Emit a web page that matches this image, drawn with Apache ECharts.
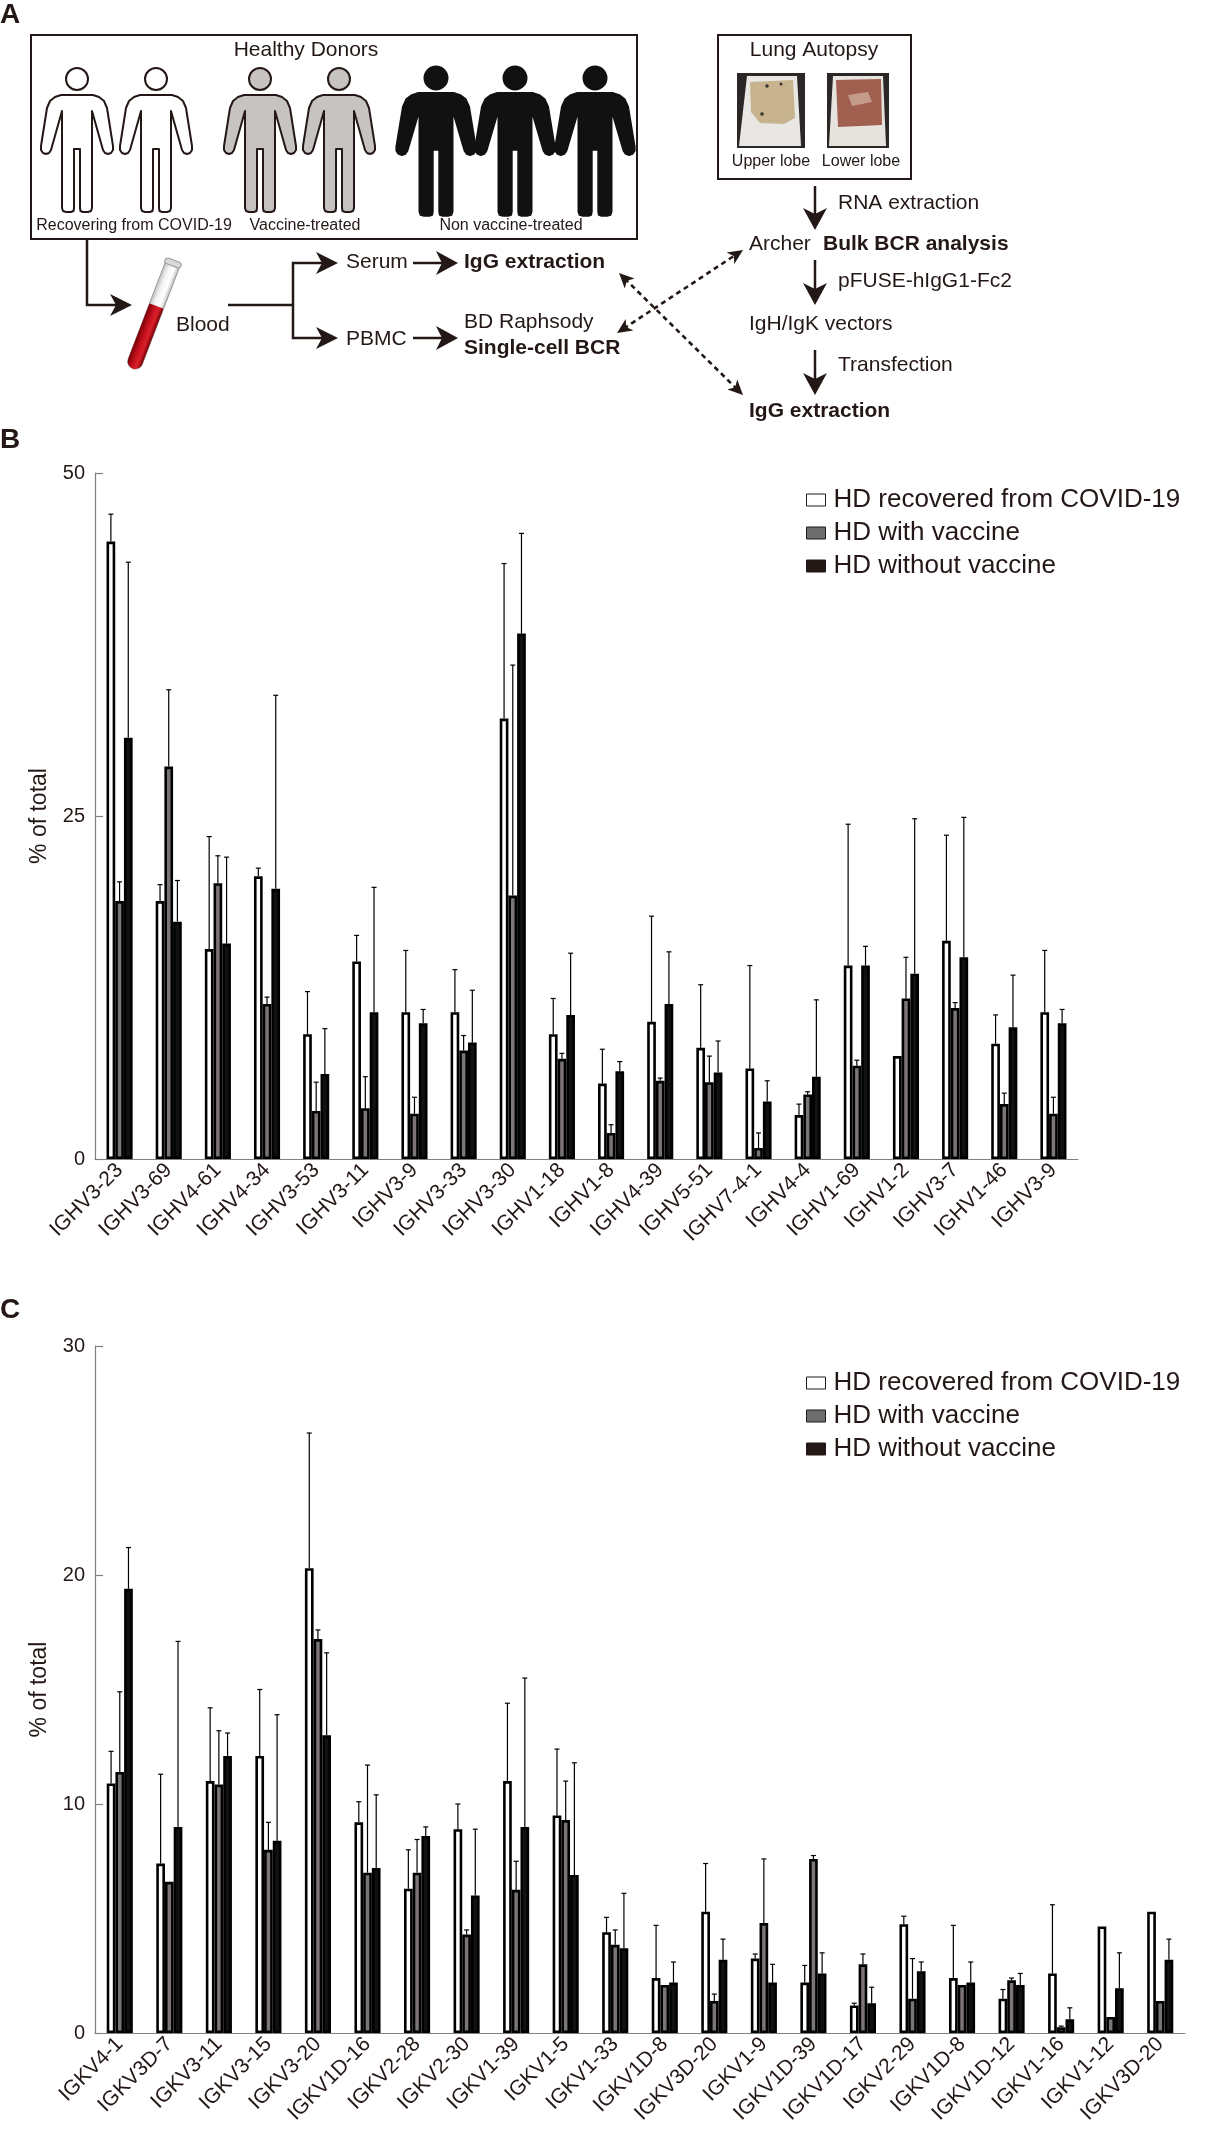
<!DOCTYPE html>
<html>
<head>
<meta charset="utf-8">
<script src="https://cdn.jsdelivr.net/npm/echarts@6/dist/echarts.min.js"></script>
<style>html,body{margin:0;padding:0;background:#fff;}#c{width:1206px;height:2153px;}</style>
</head>
<body>
<div id="c"></div>
<script>
// ---------- DATA ----------
const seriesNames = ['HD recovered from COVID-19', 'HD with vaccine', 'HD without vaccine'];

const catsB = ['IGHV3-23','IGHV3-69','IGHV4-61','IGHV4-34','IGHV3-53','IGHV3-11','IGHV3-9','IGHV3-33','IGHV3-30','IGHV1-18','IGHV1-8','IGHV4-39','IGHV5-51','IGHV7-4-1','IGHV4-4','IGHV1-69','IGHV1-2','IGHV3-7','IGHV1-46','IGHV3-9'];
const covidB    = [45.0,18.8,15.3,20.6,9.1,14.4,10.7,10.7,32.1,9.1,5.5,10.0,8.1,6.6,3.2,14.1,7.5,15.9,8.4,10.7];
const covidErrB = [2.0,1.2,8.2,0.6,3.1,1.9,4.5,3.1,11.3,2.6,2.5,7.7,4.6,7.5,0.8,10.3,0,7.7,2.1,4.5];
const vacB      = [18.8,28.6,20.1,11.3,3.5,3.7,3.3,7.9,19.2,7.3,1.9,5.7,5.6,0.8,4.7,6.8,11.7,11.0,4.0,3.3];
const vacErrB   = [1.4,5.6,2.0,0.5,2.1,2.3,1.2,1.1,16.8,0.4,0.6,0.2,1.9,1.1,0.2,0.4,3.0,0.4,0.8,1.2];
const novacB    = [30.7,17.3,15.7,19.7,6.2,10.7,9.9,8.5,38.3,10.5,6.4,11.3,6.3,4.2,6.0,14.1,13.5,14.7,9.6,9.9];
const novacErrB = [12.8,3.0,6.3,14.1,3.3,9.1,1.0,3.8,7.3,4.5,0.7,3.8,2.3,1.5,5.6,1.4,11.3,10.2,3.8,1.0];
const yTicksB = {min:0, max:50, interval:25};

const catsC = ['IGKV4-1','IGKV3D-7','IGKV3-11','IGKV3-15','IGKV3-20','IGKV1D-16','IGKV2-28','IGKV2-30','IGKV1-39','IGKV1-5','IGKV1-33','IGKV1D-8','IGKV3D-20','IGKV1-9','IGKV1D-39','IGKV1D-17','IGKV2-29','IGKV1D-8','IGKV1D-12','IGKV1-16','IGKV1-12','IGKV3D-20'];
const covidC    = [10.9,7.4,11.0,12.1,20.3,9.2,6.3,8.9,11.0,9.5,4.4,2.4,5.3,3.25,2.2,1.2,4.75,2.4,1.5,2.6,4.65,5.3];
const covidErrC = [1.4,3.9,3.2,2.9,5.9,0.9,1.7,1.1,3.4,2.9,0.65,2.3,2.1,0.2,0.75,0.1,0.35,2.3,0.4,3.0,0,0];
const vacC      = [11.4,6.6,10.85,8.0,17.2,7.0,7.0,4.3,6.25,9.3,3.85,2.1,1.4,4.8,7.6,3.0,1.5,2.1,2.3,0.25,0.7,1.4];
const vacErrC   = [3.5,0,2.35,1.2,0.4,4.7,1.45,0.2,1.25,1.7,0.65,0,0.3,2.8,0.15,0.45,1.75,0,0.1,0.05,0,0];
const novacC    = [19.4,9.0,12.1,8.4,13.0,7.2,8.6,6.0,9.0,6.9,3.7,2.2,3.2,2.2,2.6,1.3,2.7,2.2,2.1,0.6,1.95,3.2];
const novacErrC = [1.8,8.1,1.0,5.5,3.6,3.2,0.4,2.9,6.5,4.9,2.4,0.9,0.9,0.8,0.9,0.7,0.4,0.9,0.5,0.5,1.55,0.9];
const yTicksC = {min:0, max:30, interval:10};

// ---------- STYLE ----------
const FONT = "'Liberation Sans', Arial, Helvetica, sans-serif";
const INK = '#231815';
const AXIS = '#808080';
const BAR_W = 8.7;
const BORDER = 2.6;
const fills = ['#ffffff', '#7b7575', '#111111'];
const legendFills = ['#ffffff', '#6e6e6e', '#231815'];

const chart = echarts.init(document.getElementById('c'), null, {renderer:'canvas'});

function barSeries(gi, k, data) {
  return {
    type:'bar', name: seriesNames[k], xAxisIndex:gi, yAxisIndex:gi,
    data: data, barWidth: BAR_W, barGap:'0%', z:2,
    itemStyle:{color: fills[k], borderColor:'#000', borderWidth: BORDER},
    emphasis:{disabled:true}, silent:true, animation:false
  };
}
function errSeries(gi, k, vals, errs) {
  const d = vals.map((v, i) => [i, v, errs[i]]);
  return {
    type:'custom', xAxisIndex:gi, yAxisIndex:gi, z:3, silent:true, animation:false,
    data: d,
    encode:{x:0, y:1},
    renderItem: function(params, api) {
      const i = api.value(0), v = api.value(1), e = api.value(2);
      if (!(e > 0)) return null;
      const p0 = api.coord([i, v]);
      const p1 = api.coord([i, v + e]);
      const x = p0[0] + (k - 1) * BAR_W;
      const st = {stroke:'#000', lineWidth:1.2};
      return {type:'group', children:[
        {type:'line', shape:{x1:x, y1:p0[1], x2:x, y2:p1[1]}, style:st},
        {type:'line', shape:{x1:x - 2.5, y1:p1[1], x2:x + 2.5, y2:p1[1]}, style:st}
      ]};
    }
  };
}

function xAxisOf(gi, cats) {
  return {
    gridIndex:gi, type:'category', data:cats,
    axisLine:{show:true, lineStyle:{color:AXIS, width:1.2}},
    axisTick:{show:false},
    axisLabel:{interval:0, rotate:45, fontSize:21, color:INK, margin:8, fontFamily:FONT, hideOverlap:false},
    splitLine:{show:false}
  };
}
function yAxisOf(gi, t) {
  return {
    gridIndex:gi, type:'value', min:t.min, max:t.max, interval:t.interval,
    axisLine:{show:true, lineStyle:{color:AXIS, width:1.2}},
    axisTick:{show:true, inside:true, length:8, lineStyle:{color:AXIS, width:1.2}},
    splitLine:{show:false},
    axisLabel:{fontSize:20, color:INK, margin:10, fontFamily:FONT},
    name:'% of total', nameLocation:'middle', nameGap:44,
    nameTextStyle:{fontSize:23, color:INK, fontFamily:FONT}
  };
}
function legendOf(top) {
  return {
    orient:'vertical', left:801, top:top, itemWidth:19, itemHeight:12, itemGap:7,
    selectedMode:false, icon:'rect',
    textStyle:{fontSize:26, color:INK, fontFamily:FONT, padding:[0,0,0,3]},
    data: seriesNames.map((n, k) => ({name:n, itemStyle:{color:legendFills[k], borderColor:INK, borderWidth:1}}))
  };
}

// ---------- PANEL A (schematic) ----------
function txt(t, x, y, size, opts) {
  opts = opts || {};
  const al = opts.align || 'left';
  return {type:'text', x:x, y:y, silent:true, style:{
    text:t, fontSize:size, fontFamily:FONT, fontWeight: opts.bold ? 'bold' : 'normal',
    fill: opts.fill || INK, align:al, textAlign:al, verticalAlign:'middle', textVerticalAlign:'middle'}};
}
function line(pts, w, dash) {
  return {type:'polyline', silent:true, shape:{points:pts}, style:{stroke:INK, lineWidth:w || 2, fill:null, lineDash: dash || null}};
}
function head(tx, ty, dx, dy, len, hw, notch) {
  const L = Math.sqrt(dx*dx + dy*dy); dx /= L; dy /= L;
  const px = -dy, py = dx;
  const bx = tx - dx*len, by = ty - dy*len;
  const nx = tx - dx*(len - notch), ny = ty - dy*(len - notch);
  return {type:'polygon', silent:true, shape:{points:[[tx,ty],[bx + px*hw, by + py*hw],[nx,ny],[bx - px*hw, by - py*hw]]}, style:{fill:INK}};
}
function arrow(x1, y1, x2, y2, w) {
  const dx = x2 - x1, dy = y2 - y1, L = Math.sqrt(dx*dx + dy*dy);
  const ex = x2 - dx/L*16, ey = y2 - dy/L*16;
  return [line([[x1,y1],[ex,ey]], w || 2.5), head(x2, y2, dx, dy, 22, 12, 6)];
}
function dashedArrow(x1, y1, x2, y2) {
  const dx = x2 - x1, dy = y2 - y1, L = Math.sqrt(dx*dx + dy*dy);
  const ux = dx/L, uy = dy/L;
  return [
    line([[x1 + ux*8, y1 + uy*8],[x2 - ux*8, y2 - uy*8]], 2.6, [5,4]),
    head(x1, y1, -dx, -dy, 15, 7, 4),
    head(x2, y2, dx, dy, 15, 7, 4)
  ];
}
const FIG = [[-15,16],[-15,113],[-14,116],[-11,117],[-6,117],[-3.5,116],[-3,113],[-3,54],[3,54],[3,113],[3.5,116],[6,117],[11,117],[14,116],[15,113],[15,16],[26,55],[28,58],[31,59],[34,58],[36,55],[36,51],[30,13],[27,6],[22,2],[16,0],[-16,0],[-22,2],[-27,6],[-30,13],[-36,51],[-36,55],[-34,58],[-31,59],[-28,58],[-26,55]];
function figure(cx, top, headY, r, fill, stroke, sx, sy) {
  return [
    {type:'circle', silent:true, shape:{cx:cx, cy:headY, r:r}, style:{fill:fill, stroke:stroke, lineWidth:2}},
    {type:'polygon', silent:true, shape:{points:FIG.map(p => [cx + p[0]*sx, top + p[1]*sy])}, style:{fill:fill, stroke:stroke, lineWidth:2, lineJoin:'round'}}
  ];
}

let G = [];
G.push(txt('A', 0, 15, 28, {bold:true}));
G.push(txt('B', 0, 440, 28, {bold:true}));
G.push(txt('C', 0, 1310, 28, {bold:true}));

// Healthy donors box
G.push({type:'rect', silent:true, shape:{x:31, y:35, width:606, height:204}, style:{fill:'#fff', stroke:INK, lineWidth:2}});
G.push(txt('Healthy Donors', 306, 50.5, 21, {align:'center'}));
[77,156].forEach(cx => { G = G.concat(figure(cx, 95, 79, 11, '#ffffff', INK, 1, 1)); });
[260,339].forEach(cx => { G = G.concat(figure(cx, 95, 79, 11, '#c8c3c3', INK, 1, 1)); });
[436,515,595].forEach(cx => { G = G.concat(figure(cx, 93, 78, 11.5, '#111111', '#111111', 1.1, 1.05)); });
G.push(txt('Recovering from COVID-19', 134, 225.5, 16, {align:'center'}));
G.push(txt('Vaccine-treated', 305, 225.5, 16, {align:'center'}));
G.push(txt('Non vaccine-treated', 511, 225.5, 16, {align:'center'}));

// Lung autopsy box
G.push({type:'rect', silent:true, shape:{x:718, y:35, width:193, height:144}, style:{fill:'#fff', stroke:INK, lineWidth:2}});
G.push(txt('Lung Autopsy', 814, 50.5, 21, {align:'center'}));
G.push({type:'rect', silent:true, shape:{x:737, y:73, width:68, height:75}, style:{fill:'#2b2727'}});
G.push({type:'polygon', silent:true, shape:{points:[[747,76],[797,76],[801,146],[739,146]]}, style:{fill:'#e9e7e3'}});
G.push({type:'polygon', silent:true, shape:{points:[[750,82],[793,80],[795,118],[784,124],[760,123],[751,112]]}, style:{fill:'#c7b38d'}});
G.push({type:'circle', silent:true, shape:{cx:767, cy:86, r:1.8}, style:{fill:'#3a3535'}});
G.push({type:'circle', silent:true, shape:{cx:781, cy:84, r:1.5}, style:{fill:'#3a3535'}});
G.push({type:'circle', silent:true, shape:{cx:762, cy:114, r:1.8}, style:{fill:'#3a3535'}});
G.push({type:'rect', silent:true, shape:{x:827, y:73, width:62, height:75}, style:{fill:'#2b2727'}});
G.push({type:'polygon', silent:true, shape:{points:[[833,76],[883,76],[886,146],[829,146]]}, style:{fill:'#e7e3df'}});
G.push({type:'polygon', silent:true, shape:{points:[[836,80],[881,79],[882,125],[838,127]]}, style:{fill:'#a1604f'}});
G.push({type:'polygon', silent:true, shape:{points:[[848,95],[868,92],[872,102],[852,106]]}, style:{fill:'#c49a88'}});
G.push(txt('Upper lobe', 771, 161.5, 16, {align:'center'}));
G.push(txt('Lower lobe', 861, 161.5, 16, {align:'center'}));

// Right column flow
G = G.concat(arrow(815, 186, 815, 230));
G = G.concat(arrow(815, 260, 815, 305));
G = G.concat(arrow(815, 350, 815, 395));
G.push(txt('RNA extraction', 838, 203.5, 21));
G.push(txt('Archer', 749, 244.5, 21));
G.push(txt('Bulk BCR analysis', 823, 244.5, 21, {bold:true}));
G.push(txt('pFUSE-hIgG1-Fc2', 838, 281.5, 21));
G.push(txt('IgH/IgK vectors', 749, 324.5, 21));
G.push(txt('Transfection', 838, 365.5, 21));
G.push(txt('IgG extraction', 749, 411.5, 21, {bold:true}));

// Left flow
G.push(line([[87,239],[87,305],[116,305]], 2.5));
G.push(head(132, 305, 1, 0, 22, 11, 6));
G.push({type:'group', x:173, y:263, rotation:-0.366, silent:true, children:[
  {type:'rect', shape:{x:-7.5, y:0, width:15, height:113, r:[0,0,7.5,7.5]},
   style:{fill:{type:'linear', x:0, y:0, x2:1, y2:0, colorStops:[{offset:0,color:'#bdbdbd'},{offset:0.35,color:'#f4f4f4'},{offset:0.7,color:'#ffffff'},{offset:1,color:'#b8b8b8'}]}, stroke:'#9a9a9a', lineWidth:1}},
  {type:'rect', shape:{x:-7.5, y:46, width:15, height:67, r:[1,1,7.5,7.5]},
   style:{fill:{type:'linear', x:0, y:0, x2:1, y2:0, colorStops:[{offset:0,color:'#7a0008'},{offset:0.4,color:'#c4101c'},{offset:0.7,color:'#d8202a'},{offset:1,color:'#7a0008'}]}}},
  {type:'rect', shape:{x:-8.5, y:-3, width:17, height:6, r:3}, style:{fill:'#d8d8d8', stroke:'#9a9a9a', lineWidth:1}}
]});
G.push(txt('Blood', 176, 325.7, 21));
G.push(line([[228,305],[293,305]], 2.5));
G.push(line([[322,263],[293,263],[293,338],[322,338]], 2.5));
G.push(head(338, 263, 1, 0, 22, 11, 6));
G.push(head(338, 338, 1, 0, 22, 11, 6));
G.push(txt('Serum', 346, 262.7, 21));
G.push(txt('PBMC', 346, 339.7, 21));
G = G.concat(arrow(413, 263, 458, 263));
G = G.concat(arrow(413, 338, 458, 338));
G.push(txt('IgG extraction', 464, 262.7, 21, {bold:true}));
G.push(txt('BD Raphsody', 464, 322.7, 21));
G.push(txt('Single-cell BCR', 464, 348.7, 21, {bold:true}));
G = G.concat(dashedArrow(619, 273, 743, 395));
G = G.concat(dashedArrow(617, 333, 743, 250));

// ---------- OPTION ----------
const option = {
  backgroundColor:'#ffffff',
  animation:false,
  textStyle:{fontFamily:FONT},
  grid:[
    {left:95, top:473, width:983, height:686, outerBoundsMode:'none', containLabel:false},
    {left:95, top:1346, width:1090, height:687, outerBoundsMode:'none', containLabel:false}
  ],
  xAxis:[xAxisOf(0, catsB), xAxisOf(1, catsC)],
  yAxis:[yAxisOf(0, yTicksB), yAxisOf(1, yTicksC)],
  legend:[legendOf(482), legendOf(1365)],
  tooltip:{show:false},
  series:[
    barSeries(0,0,covidB), barSeries(0,1,vacB), barSeries(0,2,novacB),
    errSeries(0,0,covidB,covidErrB), errSeries(0,1,vacB,vacErrB), errSeries(0,2,novacB,novacErrB),
    barSeries(1,0,covidC), barSeries(1,1,vacC), barSeries(1,2,novacC),
    errSeries(1,0,covidC,covidErrC), errSeries(1,1,vacC,vacErrC), errSeries(1,2,novacC,novacErrC)
  ],
  graphic:{elements:G}
};
chart.setOption(option);
</script>
</body>
</html>
